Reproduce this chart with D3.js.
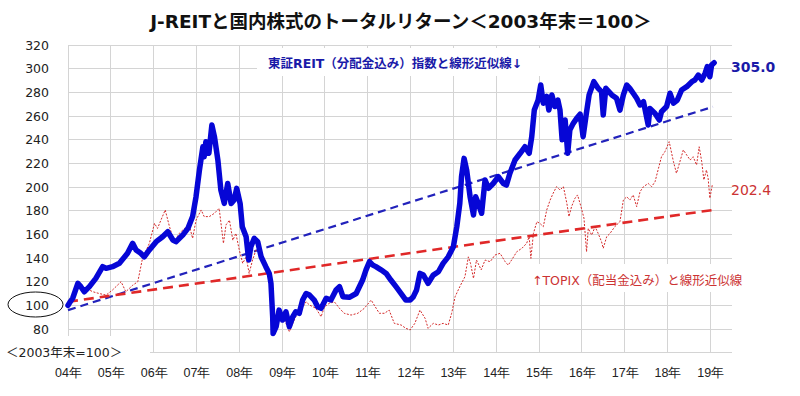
<!DOCTYPE html>
<html><head><meta charset="utf-8">
<script src="https://cdn.jsdelivr.net/npm/d3@7"></script>
<style>
body{margin:0;background:#fff;}
svg{display:block;font-family:"DejaVu Sans","Noto Sans CJK JP",sans-serif;}
</style></head>
<body><svg id="c" width="800" height="396"></svg>
<script>
// ---- data (decimal year, index value; 2003年末=100) ----
const reitT = [2004.00,2004.05,2004.11,2004.23,2004.30,2004.38,2004.50,2004.65,2004.81,2004.89,2005.04,2005.20,2005.39,2005.51,2005.59,2005.70,2005.78,2005.90,2006.06,2006.21,2006.33,2006.45,2006.52,2006.68,2006.80,2006.91,2006.99,2007.07,2007.15,2007.18,2007.22,2007.29,2007.36,2007.42,2007.50,2007.57,2007.65,2007.73,2007.81,2007.88,2007.94,2008.02,2008.07,2008.16,2008.22,2008.27,2008.35,2008.43,2008.51,2008.62,2008.70,2008.74,2008.78,2008.79,2008.86,2008.93,2009.01,2009.09,2009.17,2009.25,2009.32,2009.40,2009.48,2009.56,2009.64,2009.75,2009.83,2009.91,2010.03,2010.14,2010.26,2010.34,2010.42,2010.57,2010.73,2010.88,2010.96,2011.04,2011.12,2011.19,2011.31,2011.43,2011.54,2011.66,2011.78,2011.89,2011.99,2012.06,2012.14,2012.22,2012.30,2012.41,2012.53,2012.65,2012.76,2012.88,2013.00,2013.08,2013.15,2013.19,2013.25,2013.31,2013.39,2013.47,2013.52,2013.58,2013.66,2013.74,2013.82,2013.93,2014.05,2014.17,2014.24,2014.32,2014.44,2014.56,2014.67,2014.77,2014.83,2014.89,2014.98,2015.04,2015.10,2015.18,2015.23,2015.30,2015.37,2015.44,2015.49,2015.54,2015.61,2015.67,2015.72,2015.80,2015.88,2015.96,2016.03,2016.10,2016.17,2016.28,2016.38,2016.46,2016.50,2016.56,2016.70,2016.81,2016.89,2016.97,2017.05,2017.12,2017.20,2017.28,2017.36,2017.44,2017.55,2017.59,2017.71,2017.81,2017.86,2017.98,2018.06,2018.14,2018.23,2018.33,2018.45,2018.57,2018.64,2018.72,2018.80,2018.88,2018.93,2018.99,2019.03,2019.09];
const reitV = [100,103,106,118.6,115.8,111.5,115.8,122.8,132.7,131.3,132.7,135.5,144,152.4,146.8,144,141,146.8,153.8,158,162.2,155.2,153.8,159.4,165,175,191.8,214.4,234,225.6,238.3,228.5,252.4,242.5,222.8,197.5,186.2,203,186,189,198.9,186,166.5,158,138.3,149.5,156.6,153.8,141.1,132.7,127,118.6,90.4,76.3,82,96,87.6,94.6,82,90.4,94.6,93.3,104.5,110,108.7,104.5,98.8,97.5,106,104.5,113,115.8,107.3,106.8,110,121.4,130,136.9,134,132.7,130,127,121.4,115.8,110,104.5,104.5,107,113,127,125.6,118.6,125.6,128.4,135.5,141,149.5,166.5,186.2,208.7,224.2,214.4,191.8,176.4,191.8,186.2,177.8,206,198.9,203,208.7,203,201.7,211.6,222.8,228.5,234,228.5,242.5,265,273.5,286.2,270.8,276.5,265,277.8,268,273.5,265,240,256.6,228.5,248.2,253.8,258,261.5,242.5,260.8,277.8,289,283.4,280.6,260.8,283.4,277.8,275,265,277.8,286.2,283.4,279.2,275,269.3,272.1,252.4,266.4,262.2,256.6,263.6,268,279.2,270.8,273.5,282,284.8,289,290.4,294.6,290.4,296.2,301.8,293.2,303,305.0];
const topixT = [2004.00,2004.11,2004.23,2004.30,2004.42,2004.58,2004.73,2004.89,2005.04,2005.24,2005.35,2005.51,2005.63,2005.74,2005.90,2006.02,2006.09,2006.17,2006.27,2006.37,2006.48,2006.60,2006.72,2006.83,2006.91,2006.99,2007.11,2007.18,2007.30,2007.42,2007.53,2007.63,2007.69,2007.77,2007.85,2007.92,2008.00,2008.08,2008.16,2008.23,2008.31,2008.39,2008.51,2008.58,2008.70,2008.74,2008.78,2008.86,2008.93,2009.01,2009.09,2009.17,2009.25,2009.32,2009.44,2009.56,2009.64,2009.79,2009.91,2009.99,2010.10,2010.22,2010.34,2010.45,2010.61,2010.77,2010.92,2011.08,2011.15,2011.27,2011.39,2011.50,2011.62,2011.78,2011.89,2011.99,2012.10,2012.22,2012.34,2012.41,2012.53,2012.65,2012.76,2012.88,2012.96,2013.04,2013.15,2013.27,2013.35,2013.40,2013.47,2013.54,2013.65,2013.74,2013.86,2013.97,2014.09,2014.21,2014.28,2014.36,2014.48,2014.60,2014.71,2014.77,2014.81,2014.87,2014.95,2015.02,2015.10,2015.18,2015.26,2015.33,2015.41,2015.49,2015.57,2015.65,2015.70,2015.76,2015.84,2015.90,2015.98,2016.05,2016.11,2016.15,2016.23,2016.31,2016.38,2016.46,2016.50,2016.58,2016.66,2016.77,2016.89,2016.97,2017.05,2017.12,2017.20,2017.28,2017.36,2017.44,2017.55,2017.63,2017.71,2017.79,2017.86,2017.94,2018.04,2018.14,2018.21,2018.29,2018.37,2018.45,2018.53,2018.60,2018.68,2018.74,2018.80,2018.85,2018.91,2018.95,2018.99,2019.05];
const topixV = [100,104.5,117,113,114.4,111.5,110,108.7,113,120,111.5,117,120,139.7,152.4,169.3,165,172,180.6,166.5,153.8,160.9,165,168,156.6,172,180.6,175,175,177.8,182,152.4,168,172,155,160.9,146.8,135.5,141,127,138.3,146.8,144,135.5,130,115.8,96,90.4,87.6,90.4,84.8,77.7,84.8,90.4,96,103,100.3,97.5,90.4,98.8,101.7,103,97.5,93.3,91.8,93.3,97.5,104.5,100.3,93.3,93.3,96,84.8,83.4,80.6,79.2,84.8,96,89,80.6,84.8,83.4,84.8,83.4,93.3,107.3,115.8,124.2,141,135.5,122.8,138.3,130,138.3,136.9,142.5,144,136.9,134,138.3,145.3,148.2,152.4,158,139.7,160.9,170.7,169.3,166.5,180.6,189,194.7,200.3,197.5,200.3,186.2,175,183.4,190.5,193.3,183.4,173.6,145.3,165,159.4,166.5,160.9,153.8,148.2,158,160.9,166.5,170.7,189,191.8,189,193.3,183.4,196.1,200.3,203,200.3,204.5,215.8,225.6,229.8,238.3,221.4,211.6,221.4,231.3,227,222.8,225.6,218.6,234,221.4,206,214.4,207.3,190.5,202.4];
const reitTrendT = [2004.00, 2019.06];
const reitTrendV = [96, 267.8];
const topixTrendT = [2004.00, 2019.06];
const topixTrendV = [103, 180.6];
const yearTicks = [2004,2005,2006,2007,2008,2009,2010,2011,2012,2013,2014,2015,2016,2017,2018,2019];
const yearLabels = ["04年","05年","06年","07年","08年","09年","10年","11年","12年","13年","14年","15年","16年","17年","18年","19年"];
const yTicks = [80,100,120,140,160,180,200,220,240,260,280,300,320];
const yGrid = [60,80,100,120,140,160,180,200,220,240,260,280,300,320];
const titleText = "J-REITと国内株式のトータルリターン＜2003年末＝100＞";
const reitLabel = "東証REIT（分配金込み）指数と線形近似線↓";
const topixLabel = "↑TOPIX（配当金込み）と線形近似線";
const baseLabel = "＜2003年末=100＞";
const reitEnd = "305.0";
const topixEnd = "202.4";

// ---- layout ----
const svg = d3.select("#c");
const x = d3.scaleLinear().domain([2004, 2019.5]).range([68, 731.7]);
const y = d3.scaleLinear().domain([60, 320]).range([352.7, 45]);
const grid = "#d4d4d4";

// grid
svg.append("g").selectAll("line").data(yGrid).join("line")
  .attr("x1", x(2004)).attr("x2", x(2019.5))
  .attr("y1", d => y(d)).attr("y2", d => y(d))
  .attr("stroke", grid).attr("stroke-width", 1).attr("shape-rendering","crispEdges");
svg.append("g").selectAll("line").data(yearTicks).join("line")
  .attr("x1", d => x(d)).attr("x2", d => x(d))
  .attr("y1", y(320)).attr("y2", y(60))
  .attr("stroke", grid).attr("stroke-width", 1).attr("shape-rendering","crispEdges");

// y axis labels
const yAxis = d3.axisLeft(y).tickValues(yTicks).tickSize(0).tickPadding(0).tickFormat(d3.format("d"));
const ya = svg.append("g").attr("transform", "translate(49,0)").call(yAxis);
ya.select(".domain").remove();
ya.selectAll("text").attr("font-size", 12.5).attr("fill", "#222").attr("font-family", "DejaVu Sans");

// x axis labels
const xAxis = d3.axisBottom(x).tickValues(yearTicks).tickSize(0).tickPadding(0)
  .tickFormat((d, i) => yearLabels[i]);
const xa = svg.append("g").attr("transform", "translate(0,368)").call(xAxis);
xa.select(".domain").remove();
xa.selectAll("text").attr("font-size", 12.5).attr("fill", "#222");

// white label boxes
svg.append("rect").attr("x", 257).attr("y", 48).attr("width", 311).attr("height", 28).attr("fill", "#fff");
svg.append("rect").attr("x", 520).attr("y", 264).attr("width", 240).attr("height", 28).attr("fill", "#fff");
svg.append("rect").attr("x", 0).attr("y", 336).attr("width", 150).attr("height", 28).attr("fill", "#fff");

// trend lines
const line2 = (T, V) => T.map((t, i) => [x(t), y(V[i])]);
svg.append("path").attr("d", d3.line()(line2(reitTrendT, reitTrendV)))
  .attr("fill", "none").attr("stroke", "#2222bb").attr("stroke-width", 2.2).attr("stroke-dasharray", "8,5");
svg.append("path").attr("d", d3.line()(line2(topixTrendT, topixTrendV)))
  .attr("fill", "none").attr("stroke", "#e02828").attr("stroke-width", 2.6).attr("stroke-dasharray", "10,6");

// series
svg.append("path").attr("d", d3.line()(line2(topixT, topixV)))
  .attr("fill", "none").attr("stroke", "#d42a2a").attr("stroke-width", 1)
  .attr("stroke-dasharray", "2,1.5");
svg.append("path").attr("d", d3.line()(line2(reitT, reitV)))
  .attr("fill", "none").attr("stroke", "#0606d6").attr("stroke-width", 5.5)
  .attr("stroke-linejoin", "round").attr("stroke-linecap", "round");

// title
svg.append("text").attr("x", 401).attr("y", 28).attr("text-anchor", "middle")
  .attr("font-size", 18.5).attr("font-weight", "bold").attr("fill", "#111").text(titleText);

// legends
svg.append("text").attr("x", 268).attr("y", 68).attr("font-size", 12.5).attr("font-weight", "bold")
  .attr("fill", "#1a1aa8").text(reitLabel);
svg.append("text").attr("x", 532).attr("y", 285).attr("font-size", 12.5)
  .attr("fill", "#cc3333").text(topixLabel);

// end values
svg.append("text").attr("x", 731).attr("y", 72).attr("font-size", 14).attr("font-weight", "bold")
  .attr("fill", "#1a1aa8").text(reitEnd);
svg.append("text").attr("x", 731).attr("y", 195).attr("font-size", 14)
  .attr("fill", "#cc3333").text(topixEnd);

// base label & ellipse
svg.append("text").attr("x", 6).attr("y", 357).attr("font-size", 12.5).attr("fill", "#222").text(baseLabel);
svg.append("ellipse").attr("cx", 35.5).attr("cy", 304.5).attr("rx", 27.5).attr("ry", 12.5)
  .attr("fill", "none").attr("stroke", "#111").attr("stroke-width", 1);
</script></body></html>
